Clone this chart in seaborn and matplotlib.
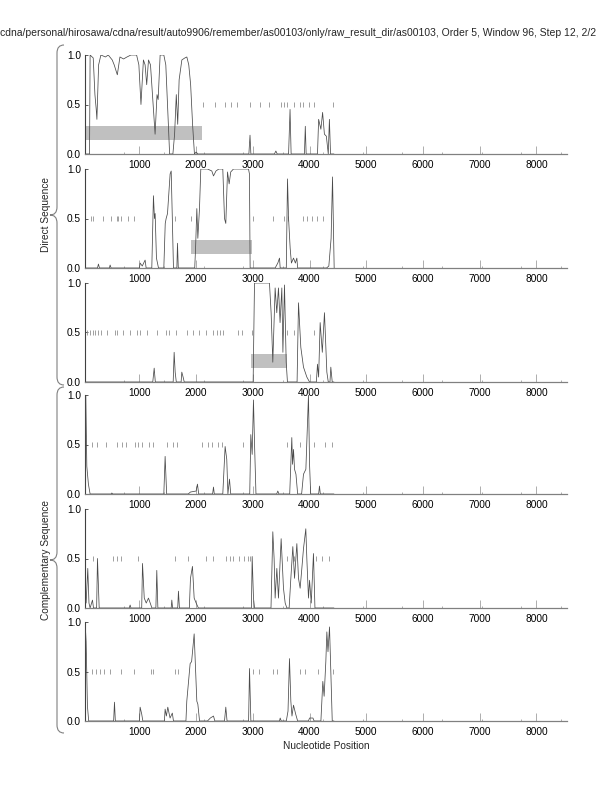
import matplotlib
matplotlib.use("Agg")
import matplotlib.pyplot as plt
from matplotlib.path import Path
from matplotlib.patches import PathPatch
import seaborn as sns
import pandas as pd

sns.set_theme(style="white")
plt.rcParams['font.family'] = ['Liberation Sans', 'DejaVu Sans']

TITLE = "cdna/personal/hirosawa/cdna/result/auto9906/remember/as00103/only/raw_result_dir/as00103, Order 5, Window 96, Step 12, 2/2"
X_LABEL = "Nucleotide Position"
GROUP_LABELS = ["Direct Sequence", "Complementary Sequence"]
X_TICKS = [1000, 2000, 3000, 4000, 5000, 6000, 7000, 8000]
X_MINOR = [735, 1435, 2135, 2835, 3535, 4235, 4935, 5635, 6335, 7035, 7735, 8435]
Y_TICKS = [0.0, 0.5, 1.0]

# panel 1 (direct, frame 1)
p1_pos = [35, 120, 130, 185, 215, 238, 250, 280, 320, 400, 450, 520, 555, 610, 656, 720, 780, 850, 950, 990,
          1027, 1070, 1100, 1128, 1160, 1195, 1276, 1310, 1330, 1365, 1430, 1465, 1510, 1532, 1590, 1620, 1650,
          1675, 1700, 1748, 1800, 1836, 1870, 1903, 1937, 1970, 2000, 2030, 2930, 2950, 2965, 3380, 3406, 3430,
          3630, 3656, 3675, 3910, 3925, 3940, 4140, 4160, 4200, 4230, 4262, 4296, 4330, 4350, 4370, 4430]
p1_val = [0, 0, 1.0, 0.97, 0.6, 0.45, 0.35, 0.9, 1.0, 0.98, 1.0, 0.95, 0.9, 0.8, 0.98, 0.96, 0.98, 1.0, 1.0, 0.9,
          0.5, 0.95, 0.9, 0.7, 0.95, 0.9, 0.2, 0.6, 0.55, 1.0, 1.0, 0.9, 0.3, 0, 0, 0.2, 0.6,
          0.3, 0.75, 0.95, 0.97, 0.98, 0.9, 0.7, 0.3, 0, 0.02, 0, 0, 0.19, 0, 0, 0.03, 0,
          0, 0.45, 0, 0, 0.28, 0, 0, 0.35, 0.25, 0.42, 0.2, 0.18, 0, 0.35, 0, 0]
p1_stops = [2127, 2330, 2511, 2612, 2713, 2950, 3118, 3287, 3489, 3556, 3610, 3725, 3825, 3893, 3994, 4082, 4420]
p1_gene = (35, 2100)

# panel 2 (direct, frame 2)
p2_pos = [35, 260, 277, 295, 470, 483, 500, 1000, 1012, 1050, 1100, 1118, 1218, 1247, 1265, 1277, 1300, 1336,
          1430, 1455, 1471, 1495, 1541, 1560, 1580, 1600, 1660, 1671, 1685, 1975, 1990, 2012, 2030, 2059, 2082,
          2200, 2276, 2306, 2350, 2400, 2470, 2500, 2523, 2553, 2582, 2610, 2658, 2923, 2940, 2952, 3393, 3440,
          3470, 3482, 3590, 3611, 3630, 3658, 3680, 3717, 3750, 3776, 3790, 4300, 4340, 4380, 4405, 4434]
p2_val = [0, 0, 0.04, 0, 0, 0.03, 0, 0, 0.05, 0.02, 0.08, 0, 0, 0.73, 0.5, 0.55, 0.1, 0,
          0, 0.45, 0.5, 0.55, 0.95, 0.98, 0.5, 0, 0, 0.25, 0, 0, 0.2, 0.6, 0.3, 0.6, 1.0,
          1.0, 0.98, 0.93, 0.98, 1.0, 1.0, 0.5, 0.45, 0.97, 0.85, 0.97, 1.0, 1.0, 0.95, 0, 0, 0.05,
          0.1, 0, 0, 0.9, 0.5, 0.2, 0.05, 0.1, 0.05, 0.1, 0, 0, 0.02, 0.3, 0.92, 0]
p2_stops = [143, 189, 365, 501, 601, 630, 671, 795, 906, 1630, 1906, 2999, 3363, 3552, 3628, 3882, 3963, 4040,
            4139, 4245]
p2_gene = (1910, 2980)

# panel 3 (direct, frame 3)
p3_pos = [35, 1235, 1260, 1280, 1595, 1612, 1630, 1650, 1735, 1747, 1770, 1790, 3005, 3029, 3293, 3322, 3352,
          3393, 3422, 3452, 3480, 3511, 3530, 3558, 3588, 3610, 3780, 3805, 3846, 3893, 3952, 4000, 4120, 4140,
          4160, 4187, 4225, 4263, 4305, 4330, 4360, 4375, 4400, 4430]
p3_val = [0, 0, 0.14, 0, 0, 0.3, 0.1, 0, 0, 0.1, 0.05, 0, 0, 1.0, 1.0, 0.7, 0.2,
          0.95, 0.7, 0.95, 0.6, 0.95, 0.3, 0.98, 0.2, 0, 0, 0.8, 0.35, 0.15, 0.05, 0, 0, 0.18,
          0.05, 0.6, 0.3, 0.7, 0.1, 0, 0, 0.15, 0, 0]
p3_stops = [83, 131, 178, 224, 277, 324, 424, 571, 612, 707, 836, 965, 1012, 1141, 1317, 1471, 1524, 1641,
            1835, 1941, 2059, 2176, 2306, 2376, 2423, 2482, 2741, 2806, 2982, 3600, 3717, 4070]
p3_gene = (2960, 3600)

# panel 4 (complementary, frame 1)
p4_pos = [35, 40, 54, 72, 100, 130, 500, 513, 530, 1430, 1453, 1480, 1860, 1900, 2000, 2023, 2045, 2290, 2306,
          2320, 2470, 2511, 2540, 2560, 2588, 2610, 2945, 2964, 2988, 3011, 3030, 3055, 3420, 3440, 3460, 3650,
          3687, 3700, 3717, 3735, 3760, 3790, 3860, 3893, 3935, 3981, 4000, 4020, 4160, 4175, 4190, 4430]
p4_val = [0, 0, 1.0, 0.28, 0.1, 0, 0, 0.01, 0, 0, 0.38, 0, 0, 0.02, 0.03, 0.1, 0, 0, 0.07,
          0, 0, 0.48, 0.35, 0, 0.15, 0, 0, 0.6, 0.4, 0.95, 0.5, 0, 0, 0.03, 0, 0,
          0.57, 0.3, 0.45, 0.25, 0.2, 0, 0, 0.2, 0.25, 1.0, 0.3, 0, 0, 0.08, 0, 0]
p4_stops = [160, 260, 407, 601, 689, 760, 924, 983, 1042, 1177, 1236, 1494, 1600, 1659, 2100, 2217, 2276,
            2394, 2453, 2823, 3600, 3834, 4070, 4275, 4393]

# panel 5 (complementary, frame 2)
p5_pos = [35, 60, 89, 110, 130, 172, 190, 245, 260, 290, 820, 836, 850, 1040, 1054, 1085, 1120, 1159, 1190,
          1220, 1290, 1306, 1325, 1560, 1571, 1585, 1675, 1688, 1705, 1880, 1900, 1935, 1965, 2000, 2040, 2975,
          2988, 3011, 3030, 3320, 3352, 3375, 3393, 3423, 3452, 3499, 3540, 3570, 3600, 3640, 3670, 3705, 3735,
          3776, 3805, 3834, 3864, 3893, 3934, 3952, 3981, 4000, 4030, 4069, 4095, 4430]
p5_val = [0.1, 0.05, 0.4, 0.05, 0, 0.08, 0, 0, 0.5, 0, 0, 0.03, 0, 0, 0.45, 0.1, 0.05, 0.1, 0.05,
          0, 0, 0.38, 0, 0, 0.08, 0, 0, 0.17, 0, 0, 0.3, 0.42, 0.1, 0.05, 0, 0,
          0.52, 0.1, 0, 0, 0.77, 0.5, 0.1, 0.4, 0.1, 0.7, 0.2, 0.05, 0, 0, 0.3, 0.62, 0.3,
          0.65, 0.3, 0.2, 0.4, 0.6, 0.8, 0.5, 0.1, 0.28, 0.05, 0.55, 0, 0]
p5_stops = [189, 542, 612, 671, 983, 1630, 1865, 2176, 2306, 2529, 2600, 2658, 2764, 2852, 2923, 2952, 3600,
            3717, 4117, 4217, 4351]

# panel 6 (complementary, frame 3)
p6_pos = [35, 42, 60, 83, 105, 545, 560, 575, 1000, 1012, 1040, 1060, 1440, 1453, 1475, 1500, 1540, 1580, 1600,
          1820, 1835, 1894, 1920, 1965, 2012, 2030, 2060, 2200, 2250, 2306, 2330, 2500, 2523, 2545, 2925, 2941,
          2965, 3470, 3482, 3500, 3590, 3620, 3646, 3670, 3690, 3717, 3755, 3790, 3980, 4000, 4060, 4080, 4200,
          4234, 4257, 4287, 4305, 4325, 4352, 4375, 4400, 4430]
p6_val = [0, 1.0, 0.8, 0.15, 0, 0, 0.19, 0, 0, 0.14, 0.07, 0, 0, 0.12, 0.05, 0.14, 0.03, 0.08, 0,
          0, 0.2, 0.58, 0.6, 0.88, 0.2, 0.17, 0, 0, 0.03, 0.05, 0, 0, 0.14, 0, 0, 0.53,
          0, 0, 0.03, 0, 0, 0.1, 0.63, 0.2, 0.05, 0.16, 0.07, 0, 0, 0.03, 0.03, 0, 0,
          0.4, 0.25, 0.6, 0.9, 0.7, 0.95, 0.5, 0, 0]
p6_stops = [160, 236, 307, 383, 483, 677, 906, 1201, 1247, 1630, 1688, 2999, 3111, 3363, 3422, 3834, 3922,
            4157, 4422]

panels = [
    (p1_pos, p1_val, p1_stops, p1_gene),
    (p2_pos, p2_val, p2_stops, p2_gene),
    (p3_pos, p3_val, p3_stops, p3_gene),
    (p4_pos, p4_val, p4_stops, None),
    (p5_pos, p5_val, p5_stops, None),
    (p6_pos, p6_val, p6_stops, None),
]

W, H = 612, 792
fig = plt.figure(figsize=(W / 100, H / 100), dpi=100)

left_px, right_px = 85, 567
tops_px = [55, 169, 283, 395, 509, 622]
panel_h = 99

gene_lo, gene_hi = 0.14, 0.285

for i, (pos, val, stops, gene) in enumerate(panels):
    top = tops_px[i]
    ax = fig.add_axes([left_px / W, 1 - (top + panel_h) / H, (right_px - left_px) / W, panel_h / H])
    df = pd.DataFrame({"pos": pos, "prob": val})
    if gene is not None:
        ax.barh(y=(gene_lo + gene_hi) / 2, width=gene[1] - gene[0], left=gene[0],
                height=gene_hi - gene_lo, color="#c0c0c0", edgecolor="none", zorder=1)
    ax.vlines(stops, 0.478, 0.522, color="#909090", lw=0.6, zorder=2)
    sns.lineplot(data=df, x="pos", y="prob", ax=ax, color="#4a4a4a", lw=0.55,
                 estimator=None, sort=False, zorder=3)
    ax.set_xlim(40, 8540)
    ax.set_ylim(0, 1.0)
    ax.set_xlabel("")
    ax.set_ylabel("")
    ax.set_xticks(X_TICKS)
    ax.set_xticklabels([str(t) for t in X_TICKS], fontsize=7.3)
    ax.set_xticks(X_MINOR, minor=True)
    ax.set_yticks(Y_TICKS)
    ax.set_yticklabels(["%.1f" % t for t in Y_TICKS], fontsize=7.3)
    ax.tick_params(axis="x", which="major", direction="in", length=5.8, width=0.6,
                   color="#a0a0a0", pad=4, bottom=True, labelcolor="black")
    ax.tick_params(axis="x", which="minor", direction="in", length=1.8, width=0.6,
                   color="#a0a0a0", bottom=True)
    ax.tick_params(axis="y", which="major", direction="in", length=2.5, width=0.6,
                   color="#404040", pad=3, left=True, labelcolor="black")
    for s in ["top", "right"]:
        ax.spines[s].set_visible(False)
    ax.spines["left"].set_color("#404040")
    ax.spines["left"].set_linewidth(0.8)
    ax.spines["bottom"].set_color("#808080")
    ax.spines["bottom"].set_linewidth(0.9)
    ax.patch.set_alpha(0)


def brace(top, bottom, x_tip=64, x_line=57, x_point=50, r=8):
    mid = (top + bottom) / 2
    pts = [(x_tip, top), (x_line, top), (x_line, top + r),
           (x_line, mid - r), (x_line, mid), (x_point, mid),
           (x_line, mid), (x_line, mid + r),
           (x_line, bottom - r), (x_line, bottom), (x_tip, bottom)]
    codes = [Path.MOVETO, Path.CURVE3, Path.CURVE3,
             Path.LINETO, Path.CURVE3, Path.CURVE3,
             Path.CURVE3, Path.CURVE3,
             Path.LINETO, Path.CURVE3, Path.CURVE3]
    verts = [(x / W, 1 - y / H) for x, y in pts]
    fig.patches.append(PathPatch(Path(verts, codes), transform=fig.transFigure,
                                 fill=False, edgecolor="#808080", lw=0.8))
    return mid


m1 = brace(45, 385)
m2 = brace(387, 733)
fig.text(46 / W, 1 - m1 / H, GROUP_LABELS[0], rotation=90, ha="center", va="center", fontsize=7.3)
fig.text(46 / W, 1 - m2 / H, GROUP_LABELS[1], rotation=90, ha="center", va="center", fontsize=7.3)
fig.text(596 / W, 1 - 33 / H, TITLE, ha="right", va="center", fontsize=7.5)
fig.text(326 / W, 1 - 746 / H, X_LABEL, ha="center", va="center", fontsize=7.3)

fig.savefig("out.png", dpi=100)
